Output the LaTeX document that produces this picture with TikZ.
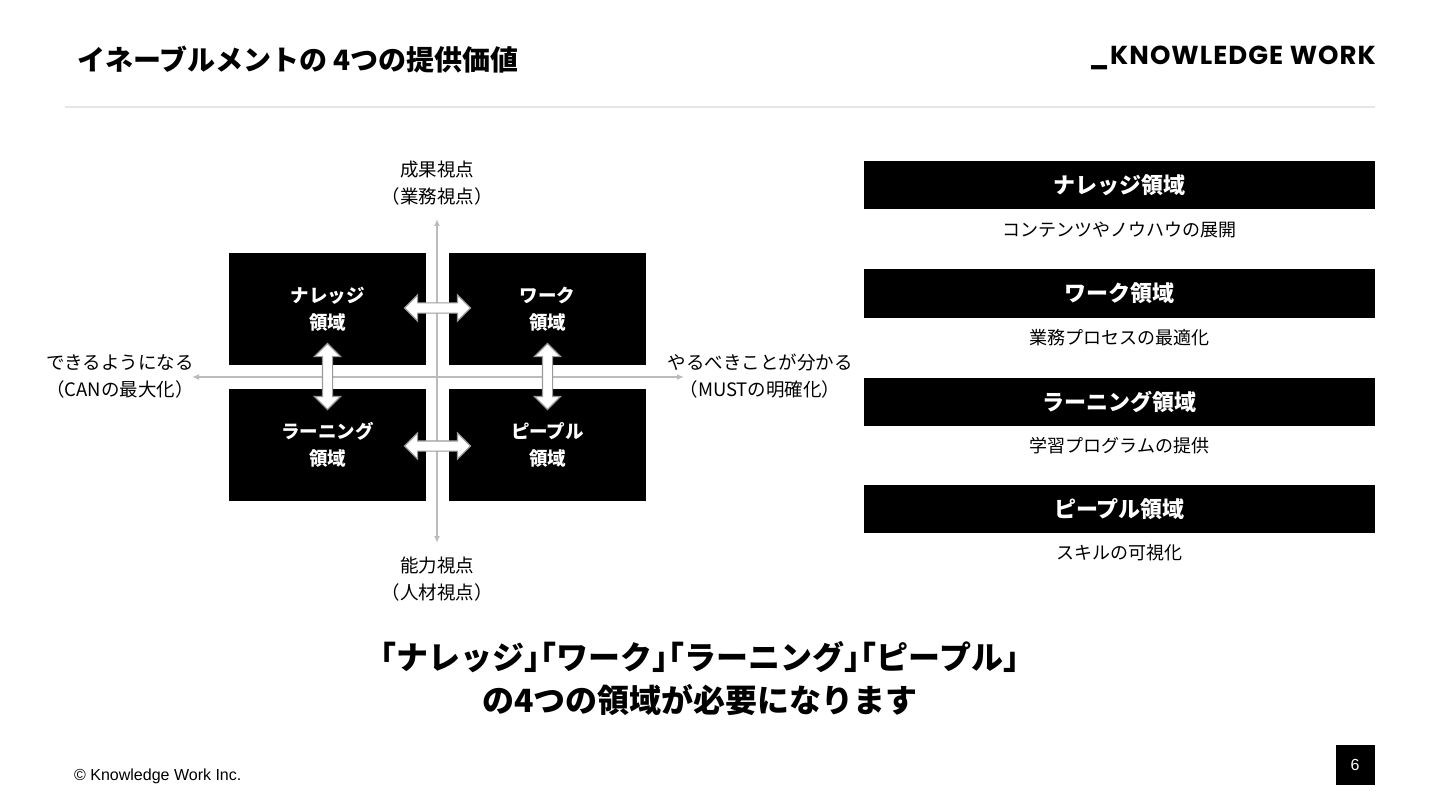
\documentclass[tikz,border=0pt]{standalone}
\usepackage{fontspec}
\setmainfont{Noto Sans CJK JP}
\newfontfamily\logofont[LetterSpace=4]{Poppins}
\newfontfamily\latinfont{Liberation Sans}
\usetikzlibrary{shapes.arrows,arrows.meta}

\definecolor{axisgray}{HTML}{BBBBBB}
\definecolor{rulegray}{HTML}{E6E6E6}
\definecolor{edgegray}{HTML}{9A9A9A}
\newcommand{\fs}[2]{\fontsize{#1}{#2}\selectfont}
\newcommand{\kakkoL}{\makebox[0.5em][r]{「}}
\newcommand{\kakkoR}{\makebox[0.5em][l]{」}}

\tikzset{
  quad/.style={fill=black, text=white, inner sep=0pt, minimum width=197pt,
    minimum height=112pt, align=center, font=\fs{18.5}{27}\bfseries},
  bar/.style={fill=black, text=white, inner sep=0pt, minimum width=511pt,
    minimum height=48pt, font=\fs{22}{26}\bfseries},
  sub/.style={inner sep=0pt, font=\fs{18}{22}},
  axlabel/.style={inner sep=0pt, align=center, font=\fs{18.5}{27}},
  axis/.style={axisgray, line width=1.4pt, {Latex[length=7pt,width=6pt]}-{Latex[length=7pt,width=6pt]}},
  swap/.style={double arrow, draw=edgegray, fill=white, line width=1.1pt,
    inner xsep=0pt, inner ysep=4.5pt, minimum height=66pt, minimum width=25pt,
    double arrow head extend=8pt}
}

\begin{document}
\begin{tikzpicture}[x=1pt,y=-1pt]
\useasboundingbox (0,0) rectangle (1440,810);

% header
\node[anchor=west, inner sep=0pt, font=\fs{28}{32}\bfseries] (title) at (77,60) {イネーブルメントの 4つの提供価値};
\node[anchor=east, inner sep=0pt, font=\logofont\fs{26}{30}\bfseries] (logo) at (1376,58) {\_KNOWLEDGE WORK};
\draw[rulegray, line width=2pt] (65,107) -- (1375,107);

% axes
\coordinate (north) at (437,219);
\coordinate (south) at (437,543);
\coordinate (west) at (192,377);
\coordinate (east) at (684,377);
\draw[axis] (south) -- (north);
\draw[axis] (west) -- (east);

% quadrants
\node[quad] (know) at (327.5,309) {ナレッジ\\領域};
\node[quad] (work) at (547.5,309) {ワーク\\領域};
\node[quad] (learn) at (327.5,445) {ラーニング\\領域};
\node[quad] (people) at (547.5,445) {ピープル\\領域};

\node[swap] (kw) at (437.5,308) {};
\node[swap] (lp) at (437.5,446) {};
\node[swap, rotate=90] (kl) at (327.5,376.5) {};
\node[swap, rotate=90] (wp) at (547.5,376.5) {};

% axis labels
\node[axlabel] (top) at (437,183.5) {成果視点\\（業務視点）};
\node[axlabel] (bottom) at (437,579) {能力視点\\（人材視点）};
\node[axlabel] (left) at (120,376.5) {できるようになる\\（CANの最大化）};
\node[axlabel] (right) at (760,376.5) {やるべきことが分かる\\（MUSTの明確化）};

% right column
\node[bar] (b1) at (1119.5,185) {ナレッジ領域};
\node[sub] (s1) at (1119.5,230) {コンテンツやノウハウの展開};
\node[bar] (b2) at (1119.5,293.5) {ワーク領域};
\node[sub] (s2) at (1119.5,338) {業務プロセスの最適化};
\node[bar] (b3) at (1119.5,401.5) {ラーニング領域};
\node[sub] (s3) at (1119.5,446) {学習プログラムの提供};
\node[bar] (b4) at (1119.5,509) {ピープル領域};
\node[sub] (s4) at (1119.5,553) {スキルの可視化};

% message
\node[inner sep=0pt, align=center, font=\fs{32}{43}\bfseries] (msg) at (700,678.5)
  {\kakkoL ナレッジ\kakkoR\kakkoL ワーク\kakkoR\kakkoL ラーニング\kakkoR\kakkoL ピープル\kakkoR\\の4つの領域が必要になります};

% footer
\node[anchor=west, inner sep=0pt, font=\latinfont\fs{16}{18}] (copy) at (74,776) {© Knowledge Work Inc.};
\node[fill=black, text=white, inner sep=0pt, minimum width=39pt, minimum height=40pt,
  font=\latinfont\fs{16}{18}] (page) at (1355,765) {6};
\end{tikzpicture}
\end{document}
